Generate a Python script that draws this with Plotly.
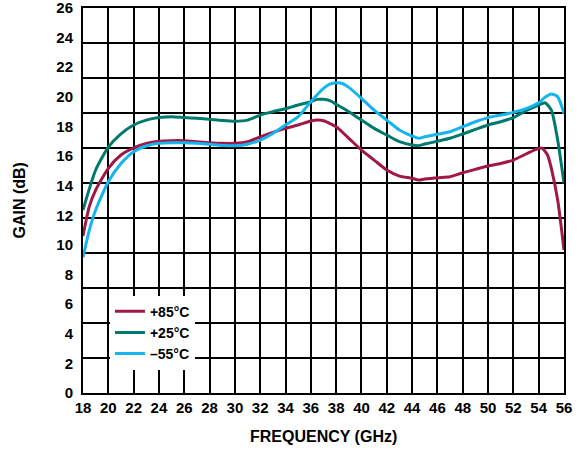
import plotly.graph_objects as go

freq_85 = [18, 18.5, 19, 20, 21, 22, 23, 24, 25, 26, 27, 28, 29, 30, 31, 32, 33, 34, 35, 36, 36.5, 37, 38, 39, 40, 41, 42, 43, 44, 44.5, 45, 46, 47, 48, 49, 50, 51, 52, 53, 54, 54.3, 54.7, 55, 55.5, 56]
gain_85 = [10.6, 12.6, 13.7, 15.17, 16.07, 16.56, 16.86, 17.0, 17.04, 17.04, 16.97, 16.9, 16.86, 16.86, 16.97, 17.3, 17.6, 17.87, 18.1, 18.37, 18.43, 18.39, 17.98, 17.2, 16.4, 15.73, 15.06, 14.65, 14.5, 14.38, 14.45, 14.54, 14.6, 14.87, 15.1, 15.33, 15.5, 15.73, 16.14, 16.52, 16.52, 16.07, 15.17, 13.03, 9.66]

freq_25 = [18, 19, 20, 21, 22, 23, 24, 25, 26, 27, 28, 29, 30, 31, 32, 33, 34, 35, 36, 36.5, 37, 37.5, 38, 39, 40, 41, 42, 43, 44, 44.5, 45, 46, 47, 48, 49, 50, 51, 52, 53, 54, 54.5, 55, 55.5, 56]
gain_25 = [12.36, 15.06, 16.6, 17.5, 18.1, 18.43, 18.6, 18.66, 18.6, 18.55, 18.48, 18.4, 18.35, 18.43, 18.77, 19.0, 19.2, 19.45, 19.67, 19.83, 19.83, 19.74, 19.5, 19.0, 18.43, 17.87, 17.42, 16.97, 16.75, 16.7, 16.81, 17.0, 17.2, 17.49, 17.8, 18.1, 18.32, 18.6, 19.06, 19.45, 19.6, 19.1, 17.08, 14.16]

freq_m55 = [18, 18.5, 19, 20, 21, 22, 23, 24, 25, 26, 27, 28, 29, 30, 31, 32, 33, 34, 35, 36, 37, 37.5, 38, 38.5, 39, 40, 41, 42, 43, 44, 44.5, 45, 46, 47, 48, 49, 50, 51, 52, 53, 54, 54.5, 55, 55.5, 56]
gain_m55 = [9.16, 11.0, 12.36, 14.27, 15.5, 16.3, 16.68, 16.86, 16.9, 16.9, 16.86, 16.8, 16.72, 16.7, 16.8, 17.08, 17.53, 18.1, 18.66, 19.67, 20.57, 20.86, 20.95, 20.9, 20.64, 19.9, 19.1, 18.43, 17.76, 17.35, 17.2, 17.3, 17.47, 17.64, 17.98, 18.32, 18.6, 18.77, 18.95, 19.2, 19.6, 19.97, 20.19, 20.0, 18.88]

x_ticks = list(range(18, 57, 2))
y_ticks = list(range(0, 27, 2))
grid_divisions = 11  # horizontal grid divisions drawn in the original

series = [
    ("+85°C", freq_85, gain_85, "#A01848"),
    ("+25°C", freq_25, gain_25, "#00796E"),
    ("\u201355°C", freq_m55, gain_m55, "#14B4EC"),
]

FONT = "Liberation Sans"

fig = go.Figure()
# empty trace to activate the decorative grid axis
fig.add_trace(go.Scatter(x=[], y=[], yaxis="y2", showlegend=False, hoverinfo="skip"))
for name, xs, ys, col in series:
    fig.add_trace(go.Scatter(
        x=xs, y=ys, mode="lines", name=f"<b>{name}</b>",
        line=dict(color=col, width=3, shape="spline", smoothing=0.6),
    ))

fig.update_layout(
    width=581, height=451,
    margin=dict(l=83, r=17, t=8, b=58),
    paper_bgcolor="white", plot_bgcolor="white",
    font=dict(family=FONT, size=15, color="black"),
    showlegend=True,
    legend=dict(
        x=0.056, y=0.253, xanchor="left", yanchor="top",
        bgcolor="white", borderwidth=0,
        font=dict(family=FONT, size=14, color="black"),
        tracegroupgap=0, itemwidth=30,
    ),
    xaxis=dict(
        range=[18, 56], tickmode="array", tickvals=x_ticks,
        ticktext=[f"<b>{v}</b>" for v in x_ticks],
        showgrid=True, gridcolor="black", gridwidth=2,
        showline=True, linecolor="black", linewidth=2, mirror=True,
        zeroline=False, ticks="", automargin=False,
        tickfont=dict(size=15), ticklabeloverflow="allow",
    ),
    yaxis=dict(
        range=[0, 26], tickmode="array", tickvals=y_ticks,
        ticktext=[f"<b>{v}</b>" for v in y_ticks],
        showgrid=False,
        showline=True, linecolor="black", linewidth=2, mirror=True,
        zeroline=False, ticks="", automargin=False,
        tickfont=dict(size=15), ticklabelstandoff=5, ticklabeloverflow="allow",
    ),
    yaxis2=dict(
        range=[0, grid_divisions], overlaying="y", side="right", dtick=1,
        showgrid=True, gridcolor="black", gridwidth=2,
        showticklabels=False, ticks="", zeroline=False, showline=False,
        automargin=False,
    ),
    annotations=[
        dict(text="<b>FREQUENCY (GHz)</b>", xref="paper", yref="paper",
             x=0.5, y=0, yshift=-43, showarrow=False, yanchor="middle",
             font=dict(family=FONT, size=16, color="black")),
        dict(text="<b>GAIN (dB)</b>", xref="paper", yref="paper",
             x=0, y=0.5, xshift=-64, showarrow=False, textangle=-90,
             xanchor="center", yanchor="middle",
             font=dict(family=FONT, size=16, color="black")),
    ],
)

fig.write_html(
    "out.html",
    config={"displayModeBar": False},
    post_script="document.body.style.margin='0px';document.body.style.overflow='hidden';",
)
